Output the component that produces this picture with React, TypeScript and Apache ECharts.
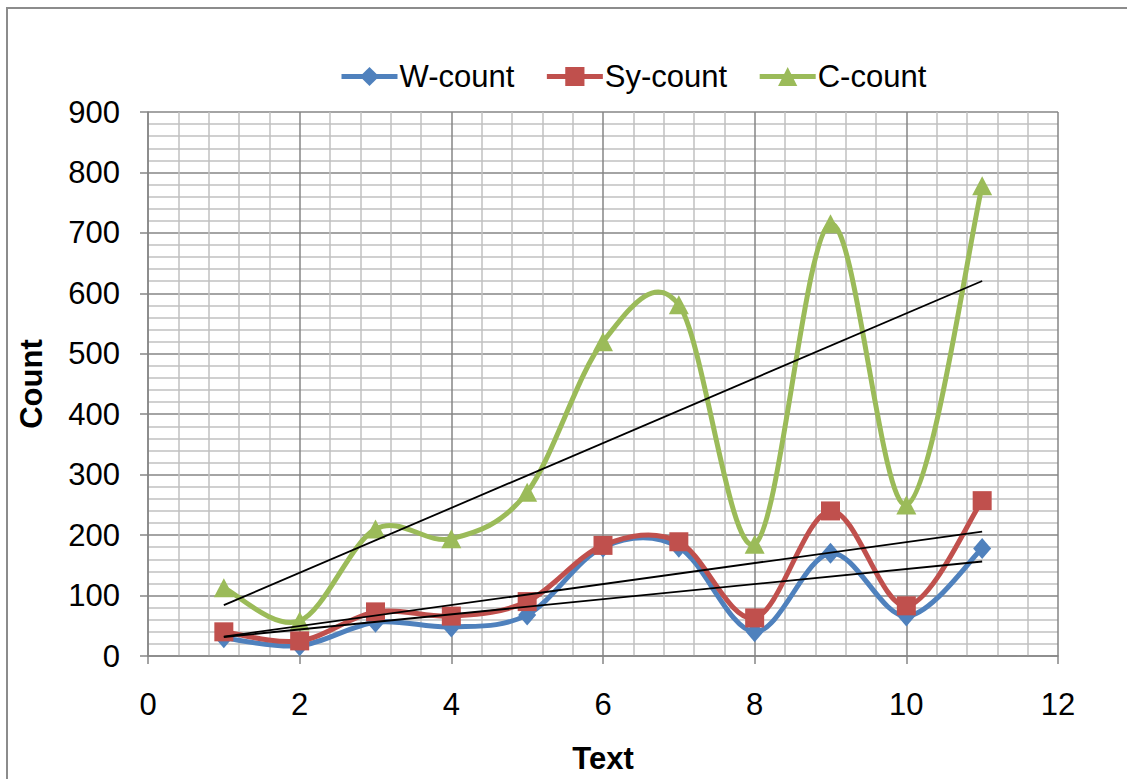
import React, { useEffect, useRef } from "react";
import * as echarts from "echarts";

// Text number on the x axis and the three counts per text
const texts = [1, 2, 3, 4, 5, 6, 7, 8, 9, 10, 11];
const wCount = [30, 17, 56, 48, 68, 180, 180, 40, 170, 66, 178];
const syCount = [40, 25, 73, 66, 90, 183, 189, 63, 240, 83, 257];
const cCount = [113, 58, 210, 194, 271, 520, 581, 185, 715, 250, 778];

const seriesNames = ["W-count", "Sy-count", "C-count"];
const colors = ["#4F81BD", "#C0504D", "#9BBB59"];
const symbols = ["diamond", "rect", "triangle"];
const symbolSizes = [
  [18, 21],
  [19, 19],
  [20, 19],
];

const FONT = "'Liberation Sans', Arial, sans-serif";
const FONT_SIZE = 31;

// Least-squares linear fit, evaluated at the first and last text
function linearTrend(xs: number[], ys: number[]): number[][] {
  const n = xs.length;
  const mx = xs.reduce((a, b) => a + b, 0) / n;
  const my = ys.reduce((a, b) => a + b, 0) / n;
  let sxy = 0;
  let sxx = 0;
  for (let i = 0; i < n; i++) {
    sxy += (xs[i] - mx) * (ys[i] - my);
    sxx += (xs[i] - mx) * (xs[i] - mx);
  }
  const slope = sxy / sxx;
  const icept = my - slope * mx;
  const x0 = xs[0];
  const x1 = xs[n - 1];
  return [
    [x0, icept + slope * x0],
    [x1, icept + slope * x1],
  ];
}

const pairs = (ys: number[]) => texts.map((x, i) => [x, ys[i]]);

// Catmull-Rom style smoothed curve: one cubic segment from point i to i+1,
// with control points taken from the neighbouring points in pixel space.
function smoothSegment(ys: number[], color: string) {
  const n = ys.length;
  return (params: any, api: any) => {
    const i = params.dataIndex;
    if (i >= n - 1) return null;
    const at = (k: number) => {
      const c = Math.max(0, Math.min(n - 1, k));
      return api.coord([texts[c], ys[c]]);
    };
    const p0 = at(i - 1);
    const p1 = at(i);
    const p2 = at(i + 1);
    const p3 = at(i + 2);
    const k = 1 / 6;
    return {
      type: "bezierCurve",
      shape: {
        x1: p1[0],
        y1: p1[1],
        cpx1: p1[0] + (p2[0] - p0[0]) * k,
        cpy1: p1[1] + (p2[1] - p0[1]) * k,
        cpx2: p2[0] - (p3[0] - p1[0]) * k,
        cpy2: p2[1] - (p3[1] - p1[1]) * k,
        x2: p2[0],
        y2: p2[1],
      },
      style: { stroke: color, lineWidth: 5, fill: "none", lineCap: "round" },
      silent: true,
    };
  };
}

export default function App() {
  const ref = useRef<HTMLDivElement>(null);

  useEffect(() => {
    if (!ref.current) return;
    const chart = echarts.init(ref.current, null, { renderer: "svg" });

    const majorColor = "#868686";
    const minorColor = "#c0c0c0";

    const axisCommon = {
      type: "value" as const,
      axisLine: { show: true, lineStyle: { color: majorColor, width: 1.5 } },
      axisTick: { show: true, length: 8, lineStyle: { color: majorColor, width: 1.5 } },
      splitLine: { show: true, lineStyle: { color: majorColor, width: 1.5 } },
      minorTick: { show: false, splitNumber: 5 },
      minorSplitLine: { show: true, lineStyle: { color: minorColor, width: 1.5 } },
      axisLabel: { color: "#000", fontSize: FONT_SIZE, fontFamily: FONT },
    };

    const all = [wCount, syCount, cCount];

    const curveSeries = all.map((ys, i) => ({
      name: seriesNames[i] + " curve",
      type: "custom",
      data: pairs(ys),
      renderItem: smoothSegment(ys, colors[i]),
      silent: true,
      z: 2 + i * 2,
    }));

    const markerSeries = all.map((ys, i) => ({
      name: seriesNames[i],
      type: "line",
      data: pairs(ys),
      symbol: symbols[i],
      symbolSize: symbolSizes[i],
      lineStyle: { color: colors[i], width: 5, opacity: 0 },
      itemStyle: { color: colors[i] },
      z: 3 + i * 2,
    }));

    const trendSeries = all.map((ys, i) => ({
      name: seriesNames[i] + " trend",
      type: "line",
      data: linearTrend(texts, ys),
      symbol: "none",
      lineStyle: { color: "#000", width: 1.8 },
      silent: true,
      z: 10,
    }));

    chart.setOption({
      animation: false,
      backgroundColor: "#fff",
      textStyle: { fontFamily: FONT },
      grid: { left: 148, top: 112, width: 910, height: 544 },
      legend: {
        data: seriesNames,
        left: 334,
        top: 56,
        itemWidth: 56,
        itemHeight: 24,
        itemGap: 30,
        lineStyle: { opacity: 1, width: 5 },
        textStyle: { fontSize: FONT_SIZE, color: "#000", fontFamily: FONT, padding: [0, 0, 0, -3] },
      },
      xAxis: {
        ...axisCommon,
        min: 0,
        max: 12,
        interval: 2,
        axisLabel: { ...axisCommon.axisLabel, margin: 33 },
      },
      yAxis: {
        ...axisCommon,
        min: 0,
        max: 900,
        interval: 100,
        axisLabel: { ...axisCommon.axisLabel, margin: 28 },
      },
      graphic: [
        {
          type: "rect",
          shape: { x: 7, y: 8, width: 1160, height: 820 },
          style: { fill: "none", stroke: "#8c8c8c", lineWidth: 2 },
          silent: true,
        },
        {
          type: "text",
          x: 31,
          y: 384,
          rotation: Math.PI / 2,
          style: {
            text: "Count",
            fontSize: FONT_SIZE,
            fontWeight: "bold",
            fontFamily: FONT,
            fill: "#000",
            align: "center",
            verticalAlign: "middle",
          },
        },
        {
          type: "text",
          x: 603,
          y: 758,
          style: {
            text: "Text",
            fontSize: FONT_SIZE,
            fontWeight: "bold",
            fontFamily: FONT,
            fill: "#000",
            align: "center",
            verticalAlign: "middle",
          },
        },
      ],
      series: [...curveSeries, ...markerSeries, ...trendSeries],
    });

    return () => chart.dispose();
  }, []);

  return (
    <div
      ref={ref}
      style={{ position: "absolute", left: 0, top: 0, width: 1127, height: 779 }}
    />
  );
}
